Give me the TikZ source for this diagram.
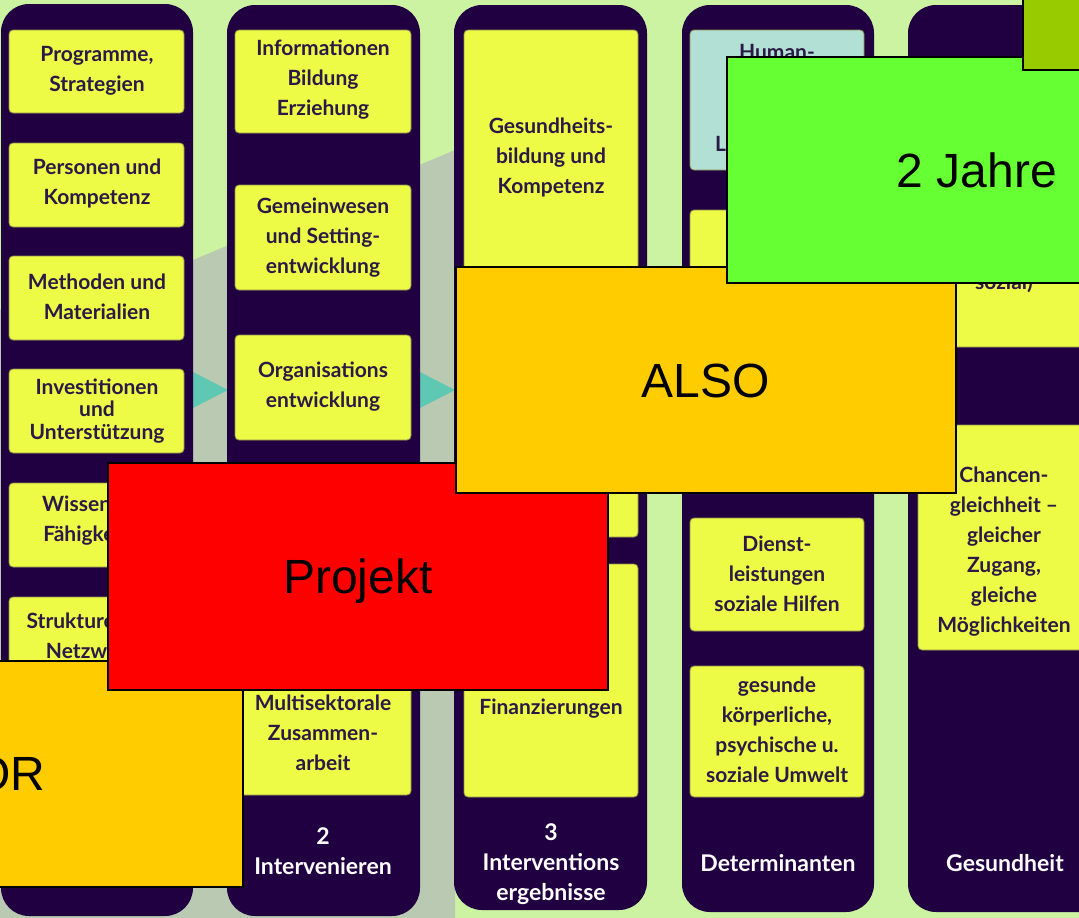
\documentclass[tikz,border=0pt]{standalone}
\usepackage{fontspec}
\setmainfont{Liberation Sans}
\newfontfamily\latofont[Ligatures=TeX]{Lato}
\definecolor{bggreen}{HTML}{CCF3A2}
\definecolor{bggray}{HTML}{BACAB2}
\definecolor{colpurple}{HTML}{200040}
\definecolor{boxyellow}{HTML}{EEFB46}
\definecolor{boxedge}{HTML}{8E8E50}
\definecolor{boxteal}{HTML}{B2E0D4}
\definecolor{txtdark}{HTML}{2A1A45}
\definecolor{arrteal}{HTML}{5EC8B2}
\definecolor{ovorange}{HTML}{FFCC00}
\definecolor{ovred}{HTML}{FF0000}
\definecolor{ovgreen}{HTML}{66FF33}
\definecolor{ovolive}{HTML}{99CC00}
\begin{document}
\begin{tikzpicture}[x={(1pt,0pt)},y={(0pt,-1pt)},
  colbar/.style={fill=colpurple, rounded corners=28pt},
  ybox/.style={fill=boxyellow, draw=boxedge, line width=0.8pt, rounded corners=4pt},
  tbox/.style={fill=boxteal, draw=boxedge, line width=0.8pt, rounded corners=4pt},
  btxt/.style={font=\latofont\bfseries\fontsize{21}{30}\selectfont, text=txtdark, align=center, inner sep=0pt},
  wtxt/.style={font=\latofont\bfseries\fontsize{23}{30}\selectfont, text=white, align=center, inner sep=0pt},
  over/.style={draw=black, line width=2pt, font=\fontsize{48}{56}\selectfont, text=black,
    minimum width=500pt, minimum height=226pt, inner sep=0pt, text height=34.4pt, text depth=0pt},
  flow/.style={fill=arrteal}]
\useasboundingbox (0,0) rectangle (1079,918);
\clip (0,0) rectangle (1079,918);
% background
\fill[bggreen] (0,0) rectangle (1079,918);
\fill[bggray] (0,918) -- (0,310) -- (193,260) -- (455,150) -- (455,918) -- cycle;
% flow arrows
\fill[flow] (193,372) -- (228,390) -- (193,408) -- cycle;
\fill[flow] (420,372) -- (455,390) -- (420,408) -- cycle;
% columns
\fill[colbar] (1,4) rectangle (193,916);
\fill[colbar] (227,5) rectangle (420,916);
\fill[colbar] (454,5) rectangle (647,910);
\fill[colbar] (682,5) rectangle (874,912);
\fill[colbar] (908,5) rectangle (1120,912);
% column 1
\path[ybox] (9,30) rectangle (184,113);
\path[ybox] (9,143) rectangle (184,227);
\path[ybox] (9,256) rectangle (184,340);
\path[ybox] (9,369) rectangle (184,453);
\path[ybox] (9,483) rectangle (184,567);
\path[ybox] (9,597) rectangle (184,690);
\node[btxt] (a1) at (97,71) {Programme,\\Strategien};
\node[btxt] (a2) at (97,183) {Personen und\\Kompetenz};
\node[btxt] (a3) at (97,297) {Methoden und\\Materialien};
\node[btxt, font=\latofont\bfseries\fontsize{21}{22.5}\selectfont] (a4) at (97,411) {Investitionen\\und\\Unterstützung};
\node[btxt] (a5) at (97,521) {Wissen und\\Fähigkeiten};
\node[btxt] (a6) at (97,636) {Strukturen und\\Netzwerke};
% column 2
\path[ybox] (235,30) rectangle (411,133);
\path[ybox] (235,185) rectangle (411,290);
\path[ybox] (235,335) rectangle (411,440);
\path[ybox] (235,669) rectangle (411,795);
\node[btxt] (b1) at (323,80) {Informationen\\Bildung\\Erziehung};
\node[btxt] (b2) at (323,238) {Gemeinwesen\\und Setting-\\entwicklung};
\node[btxt] (b3) at (323,387) {Organisations\\entwicklung};
\node[btxt] (b5) at (323,733) {Multisektorale\\Zusammen-\\arbeit};
\node[wtxt] (bl) at (323,851) {2\\Intervenieren};
% column 3
\path[ybox] (464,30) rectangle (638,280);
\path[ybox] (464,295) rectangle (638,537);
\path[ybox] (464,564) rectangle (638,797);
\node[btxt] (c1) at (551,157) {Gesundheits-\\bildung und\\Kompetenz};
\node[btxt] (c3) at (551,709) {Finanzierungen};
\node[wtxt] (cl) at (551,864) {3\\Interventions\\ergebnisse};
% column 4
\path[tbox] (690,30) rectangle (864,170);
\path[ybox] (690,210) rectangle (864,340);
\path[ybox] (690,518) rectangle (864,631);
\path[ybox] (690,666) rectangle (864,797);
\node[btxt] (d1) at (777,52) {Human-};
\node[btxt, anchor=west] (d1b) at (715,144) {L};
\node[btxt] (d3) at (777,574) {Dienst-\\leistungen\\soziale Hilfen};
\node[btxt] (d4) at (777,730) {gesunde\\körperliche,\\psychische u.\\soziale Umwelt};
\node[wtxt] (dl) at (778,863) {Determinanten};
% column 5
\path[ybox] (918,90) rectangle (1092,347);
\path[ybox] (918,425) rectangle (1092,650);
\node[btxt, anchor=base] (e1) at (1004,289) {sozial)};
\node[btxt] (e2) at (1004,552) {Chancen-\\gleichheit –\\gleicher\\Zugang,\\gleiche\\Möglichkeiten};
\node[wtxt] (el) at (1005,863) {Gesundheit};
% overlays
\node[over, fill=ovorange] (vor) at (-7,773.5) {VOR};
\node[over, fill=ovred, minimum height=227pt] (projekt) at (358,576.5) {Projekt};
\node[over, fill=ovorange] (also) at (705.5,380) {ALSO};
\node[over, fill=ovgreen] (jahre) at (977,170) {2 Jahre};
\node[over, fill=ovolive] (olive) at (1273,-43) {};
\end{tikzpicture}
\end{document}
